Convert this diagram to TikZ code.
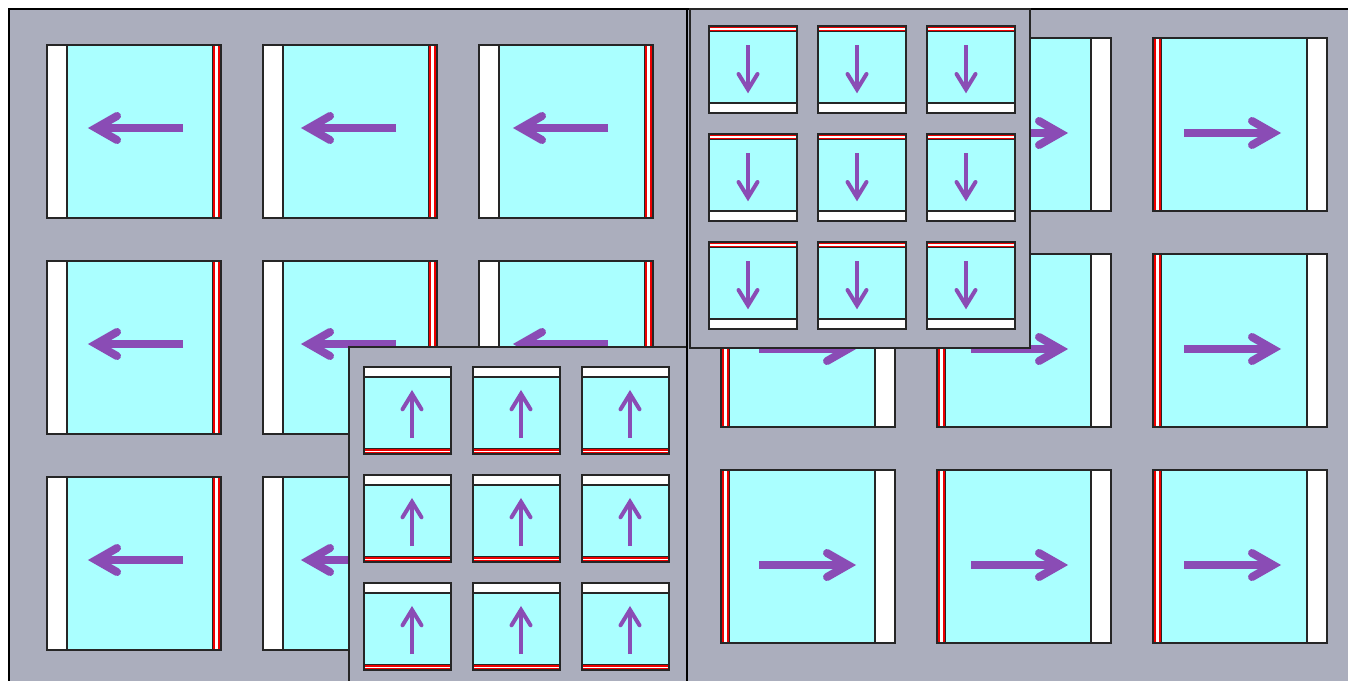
\documentclass[tikz,border=0pt]{standalone}
\definecolor{panelgray}{HTML}{ABAEBD}
\definecolor{tilecyan}{HTML}{AAFFFF}
\definecolor{arrowpurple}{HTML}{8A4CB5}
\definecolor{stripred}{HTML}{EE0000}
\tikzset{
  paneledge/.style={draw=black, line width=2pt},
  overlayedge/.style={draw=black!85, line width=1.5pt},
  tileedge/.style={draw=black!85, line width=1.3pt},
  bigarrow/.style={draw=arrowpurple, line width=8pt, line cap=round, line join=miter},
  smallarrow/.style={draw=arrowpurple, line width=4pt, line cap=round, line join=miter},
  pics/tileleft/.style={code={
    \fill[tilecyan] (0,0) rectangle (174,173);
    \fill[white] (0,0) rectangle (20,173);
    \draw[tileedge] (20,0) -- (20,173);
    \fill[black!85] (165,0) rectangle (174,173);
    \fill[stripred] (165.8,0.6) rectangle (173.4,172.4);
    \fill[white] (168.4,0.6) rectangle (170.8,172.4);
    \draw[tileedge] (0,0) rectangle (174,173);
    \draw[bigarrow, line cap=butt] (#1+136,83) -- (#1+50,83);
    \draw[bigarrow] (#1+70,71) -- (#1+49,83) -- (#1+70,95);
  }},
  pics/tileright/.style={code={
    \fill[tilecyan] (0,0) rectangle (174,173);
    \fill[white] (154,0) rectangle (174,173);
    \draw[tileedge] (154,0) -- (154,173);
    \fill[black!85] (0,0) rectangle (9,173);
    \fill[stripred] (0.6,0.6) rectangle (8.2,172.4);
    \fill[white] (3.2,0.6) rectangle (5.6,172.4);
    \draw[tileedge] (0,0) rectangle (174,173);
    \draw[bigarrow, line cap=butt] (#1+31,95) -- (#1+118,95);
    \draw[bigarrow] (#1+99,83) -- (#1+120,95) -- (#1+99,107);
  }},
  pics/tiledown/.style={code={
    \fill[tilecyan] (0,0) rectangle (88,87);
    \fill[white] (0,77) rectangle (88,87);
    \draw[tileedge] (0,77) -- (88,77);
    \fill[black!85] (0,0) rectangle (88,5.8);
    \fill[stripred] (0.6,0.6) rectangle (87.4,5.2);
    \fill[white] (0.6,2.3) rectangle (87.4,3.5);
    \draw[tileedge] (0,0) rectangle (88,87);
    \draw[smallarrow, line cap=butt] (39,19) -- (39,62);
    \draw[smallarrow] (29.5,48) -- (39,63.5) -- (48.5,48);
  }},
  pics/tileup/.style={code={
    \fill[tilecyan] (0,0) rectangle (87,87);
    \fill[white] (0,0) rectangle (87,10);
    \draw[tileedge] (0,10) -- (87,10);
    \fill[black!85] (0,81.2) rectangle (87,87);
    \fill[stripred] (0.6,81.8) rectangle (86.4,86.4);
    \fill[white] (0.6,83.5) rectangle (86.4,84.7);
    \draw[tileedge] (0,0) rectangle (87,87);
    \draw[smallarrow, line cap=butt] (48,71) -- (48,28);
    \draw[smallarrow] (38.5,42.3) -- (48,26.8) -- (57.5,42.3);
  }},
}
\begin{document}
\begin{tikzpicture}[x=1pt, y=-1pt]
  \useasboundingbox (0,0) rectangle (1348,680);
  \clip (0,0) rectangle (1348,680);
  \fill[white] (0,0) rectangle (1348,680);
  % left panel
  \fill[panelgray] (9,9) rectangle (687,690);
  \draw[paneledge] (9,690) -- (9,9) -- (687,9) -- (687,690);
  \foreach \cx/\off in {47/0,263/-3,479/-7}
    \foreach \ry in {45,261,477}
      \pic at (\cx,\ry) {tileleft=\off};
  % right panel
  \fill[panelgray] (687,9) rectangle (1360,690);
  \draw[paneledge] (687,690) -- (687,9) -- (1360,9);
  \foreach \cx/\off in {721/7,937/3,1153/0}
    \foreach \ry in {38,254,470}
      \pic at (\cx,\ry) {tileright=\off};
  % bottom overlay (up)
  \fill[panelgray] (349,347) rectangle (687,690);
  \draw[overlayedge] (349,690) -- (349,347) -- (687,347);
  \foreach \cx in {364,473,582}
    \foreach \ry in {367,475,583}
      \pic at (\cx,\ry) {tileup};
  % top overlay (down)
  \fill[panelgray] (690,9) rectangle (1030,348);
  \draw[overlayedge] (690,9) rectangle (1030,348);
  \foreach \cx in {709,818,927}
    \foreach \ry in {26,134,242}
      \pic at (\cx,\ry) {tiledown};
  % divider between the panels
  \draw[paneledge] (687,9) -- (687,690);
\end{tikzpicture}
\end{document}
